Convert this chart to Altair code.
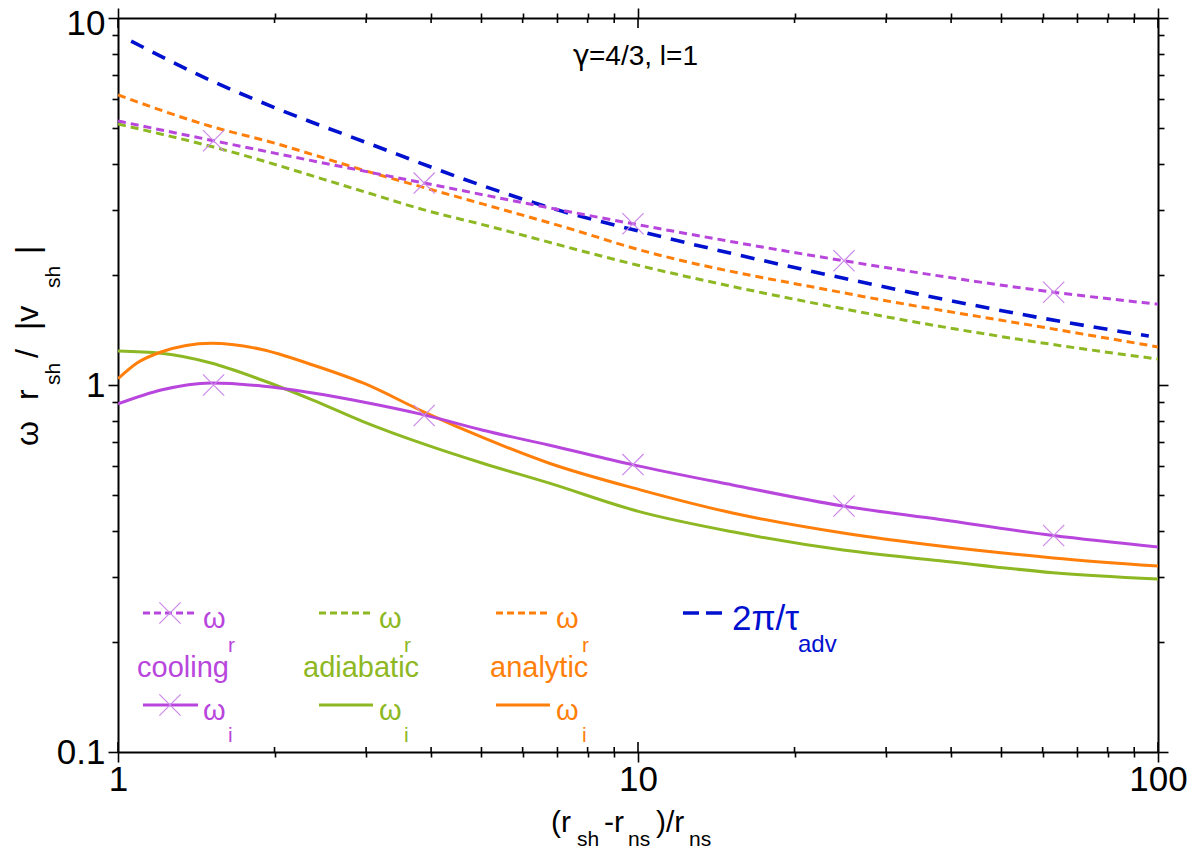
import altair as alt
import pandas as pd

# ---------------- data ----------------
cool_r_x = [1.0, 1.527, 3.88, 9.78, 24.9, 63.0, 100.0]
cool_r_y = [5.24, 4.63, 3.55, 2.75, 2.18, 1.79, 1.66]

adia_r_x = [1.0, 1.527, 3.0, 3.88, 5.0, 10.0, 25.0, 65.0, 100.0]
adia_r_y = [5.14, 4.45, 3.35, 3.0, 2.74, 2.12, 1.61, 1.28, 1.177]

anal_r_x = [1.0, 1.5, 2.0, 3.0, 5.0, 7.5, 9.7, 25.0, 65.0, 100.0]
anal_r_y = [6.17, 5.08, 4.56, 3.83, 3.12, 2.65, 2.37, 1.78, 1.41, 1.27]

tadv_x = [1.06, 1.5, 2.0, 3.0, 5.0, 7.0, 10.0, 25.0, 65.0, 96.0]
tadv_y = [8.65, 6.78, 5.70, 4.58, 3.50, 3.0, 2.63, 1.95, 1.49, 1.36]

cool_i_x = [1.0, 1.21, 1.51, 1.89, 2.37, 2.96, 3.88, 5.01, 6.73, 9.84, 15.2, 24.8, 38.1, 62.9, 100.0]
cool_i_y = [0.888, 0.969, 1.013, 0.994, 0.951, 0.899, 0.829, 0.754, 0.686, 0.605, 0.534, 0.468, 0.430, 0.389, 0.362]

adia_i_x = [1.0, 1.21, 1.51, 1.89, 2.37, 2.96, 3.88, 5.01, 6.73, 10.1, 15.2, 24.8, 38.1, 62.9, 100.0]
adia_i_y = [1.238, 1.22, 1.148, 1.032, 0.91, 0.795, 0.69, 0.613, 0.541, 0.451, 0.398, 0.355, 0.332, 0.308, 0.296]

anal_i_x = [1.0, 1.088, 1.21, 1.51, 1.89, 2.37, 2.96, 3.88, 5.01, 6.73, 10.1, 15.2, 24.8, 38.1, 62.9, 100.0]
anal_i_y = [1.04, 1.148, 1.23, 1.30, 1.25, 1.134, 1.013, 0.844, 0.721, 0.613, 0.518, 0.448, 0.395, 0.364, 0.338, 0.321]

marker_x = [1.527, 3.88, 9.78, 24.9, 63.0]
marker_r_y = [4.63, 3.55, 2.75, 2.18, 1.79]
marker_i_y = [1.0, 0.826, 0.607, 0.468, 0.389]

x_major = [1, 10, 100]
x_minor = [2, 3, 4, 5, 6, 7, 8, 9, 20, 30, 40, 50, 60, 70, 80, 90]
y_major_low = [0.1, 1]
y_major_top = [10]
y_major = [0.1, 1, 10]
y_minor = [0.2, 0.3, 0.4, 0.5, 0.6, 0.7, 0.8, 0.9, 2, 3, 4, 5, 6, 7, 8, 9]

# ---------------- styling ----------------
FONT = "Liberation Sans"
PURPLE = "#B846DD"
GREEN = "#8DB823"
ORANGE = "#FF7F0A"
BLUE = "#0010CF"
MARK = "#CC88EA"
XPATH = "M-1,-1L1,1M-1,1L1,-1"

W, H = 1040, 734
OX, OY = 118, 18  # page position of plot origin

XS = alt.Scale(type="log", domain=[1, 100], nice=False)
YS = alt.Scale(type="log", domain=[0.1, 10], nice=False)
ONE = pd.DataFrame({"k": [0]})


def series(xs, ys, color, width, dash=None, interp="monotone"):
    df = pd.DataFrame({"x": xs, "y": ys})
    kw = dict(color=color, strokeWidth=width, interpolate=interp, clip=True)
    if dash:
        kw["strokeDash"] = dash
    return alt.Chart(df).mark_line(**kw).encode(
        x=alt.X("x:Q", scale=XS, axis=None),
        y=alt.Y("y:Q", scale=YS, axis=None),
    )


def markers(xs, ys):
    df = pd.DataFrame({"x": xs, "y": ys})
    return alt.Chart(df).mark_point(shape=XPATH, size=450, filled=False,
                                    color=MARK, strokeWidth=1.2, opacity=1).encode(
        x=alt.X("x:Q", scale=XS, axis=None),
        y=alt.Y("y:Q", scale=YS, axis=None),
    )


def axis(orient, values, size, labels, domain, pad=0, loff=0):
    return alt.Axis(orient=orient, values=values, tickSize=size, labels=labels,
                    domain=domain, title=None, grid=False, ticks=True,
                    tickColor="black", tickWidth=1.6, domainColor="black",
                    domainWidth=2, labelFont=FONT, labelFontSize=35,
                    labelColor="black", labelPadding=pad, format="~g",
                    labelFlush=False, labelOverlap=False, labelOffset=loff)


def x_carrier(values, orient, size, labels, domain, pad=0):
    return alt.Chart(pd.DataFrame({"v": values})).mark_point(opacity=0).encode(
        x=alt.X("v:Q", scale=XS, axis=axis(orient, values, size, labels, domain, pad)),
        y=alt.value(0),
    )


def y_carrier(values, orient, size, labels, domain, pad=0, loff=0):
    return alt.Chart(pd.DataFrame({"v": values})).mark_point(opacity=0).encode(
        y=alt.Y("v:Q", scale=YS, axis=axis(orient, values, size, labels, domain, pad, loff)),
        x=alt.value(0),
    )


def inward(values, ypix, length):
    return alt.Chart(pd.DataFrame({"v": values})).mark_rule(color="black", strokeWidth=1.6).encode(
        x=alt.X("v:Q", scale=XS, axis=None),
        y=alt.value(ypix),
        y2=alt.value(ypix + length),
    )


def txt(s, x, y, size, color="black", align="left", angle=0, baseline="alphabetic", font=FONT):
    return alt.Chart(ONE).mark_text(text=s, fontSize=size, color=color, font=font,
                                    align=align, baseline=baseline, angle=angle).encode(
        x=alt.value(x - OX), y=alt.value(y - OY))


def seg(x1, x2, y, color, width, dash=None):
    kw = dict(color=color, strokeWidth=width)
    if dash:
        kw["strokeDash"] = dash
    return alt.Chart(ONE).mark_rule(**kw).encode(
        x=alt.value(x1 - OX), x2=alt.value(x2 - OX), y=alt.value(y - OY))


def lmark(x, y):
    return alt.Chart(ONE).mark_point(shape=XPATH, size=450, filled=False,
                                     color=MARK, strokeWidth=1.2, opacity=1).encode(
        x=alt.value(x - OX), y=alt.value(y - OY))


layers = []
# axes (outward ticks)
layers += [
    x_carrier(x_major, "bottom", 10, True, True, 0),
    x_carrier(x_minor, "bottom", 5, False, False),
    x_carrier(x_major, "top", 10, False, True),
    x_carrier(x_minor, "top", 5, False, False),
    y_carrier(y_major_low, "left", 10, True, True, 3),
    y_carrier(y_major_top, "left", 10, True, False, 3, 5),
    y_carrier(y_minor, "left", 6, False, False),
    y_carrier(y_major, "right", 10, False, True),
    y_carrier(y_minor, "right", 6, False, False),
]
# inward halves of the top/bottom ticks
layers += [
    inward(x_major, H, -10), inward(x_minor, H, -5),
    inward(x_major, 0, 10), inward(x_minor, 0, 5),
]
# data curves
DASH = [8, 5]
layers += [
    series(tadv_x, tadv_y, BLUE, 3.6, [14, 10]),
    series(anal_r_x, anal_r_y, ORANGE, 3, DASH),
    series(adia_r_x, adia_r_y, GREEN, 3, DASH),
    series(cool_r_x, cool_r_y, PURPLE, 3, DASH),
    series(adia_i_x, adia_i_y, GREEN, 3),
    series(anal_i_x, anal_i_y, ORANGE, 3),
    series(cool_i_x, cool_i_y, PURPLE, 3),
    markers(marker_x, marker_r_y),
    markers(marker_x, marker_i_y),
]

# annotation
layers += [
    txt("γ", 573, 65, 28, font="DejaVu Sans"),
    txt("=4/3, l=1", 589, 65, 28),
]

# legend
LD = [7, 4]
groups = [(143, 198, 203, 228, 137, "cooling", PURPLE, True),
          (319, 373, 379, 404, 303, "adiabatic", GREEN, False),
          (496, 550, 556, 582, 490, "analytic", ORANGE, False)]
for x1, x2, xw, xs_, xl, name, col, mk in groups:
    layers += [
        seg(x1, x2, 613, col, 3, LD),
        seg(x1, x2, 705, col, 3),
        txt("ω", xw, 628, 29, col),
        txt("r", xs_, 652, 21, col),
        txt(name, xl, 677, 29, col),
        txt("ω", xw, 720, 29, col),
        txt("i", xs_, 742, 21, col),
    ]
    if mk:
        layers += [lmark((x1 + x2) / 2 - 0.5, 613), lmark((x1 + x2) / 2 - 0.5, 705)]
layers += [
    seg(683, 723, 613, BLUE, 3.6, [16, 7]),
    txt("2π/τ", 732, 630, 35, BLUE),
    txt("adv", 798, 652, 24, BLUE),
]

# x-axis title pieces
layers += [
    txt("(r", 551, 832, 30), txt("sh", 577, 846, 21),
    txt("-r", 604, 832, 30), txt("ns", 628, 846, 21),
    txt(")/r", 656, 832, 30), txt("ns", 689, 846, 21),
]
# y-axis title pieces (rotated)
layers += [
    txt("ω", 38, 446, 32, angle=270), txt("r", 38, 400, 32, angle=270),
    txt("sh", 60, 385, 21, angle=270), txt("/", 38, 358, 32, angle=270),
    txt("|v", 38, 330, 32, angle=270), txt("sh", 60, 288, 21, angle=270),
    txt("|", 38, 254, 32, angle=270),
]

chart = alt.layer(*layers).resolve_axis(x="independent", y="independent").properties(
    width=W, height=H,
    autosize=alt.AutoSizeParams(type="none"),
    padding={"left": 110, "top": 10, "right": 34, "bottom": 99},
).configure_view(stroke=None)

chart.save("out.html", embed_options={"renderer": "svg", "actions": False})
